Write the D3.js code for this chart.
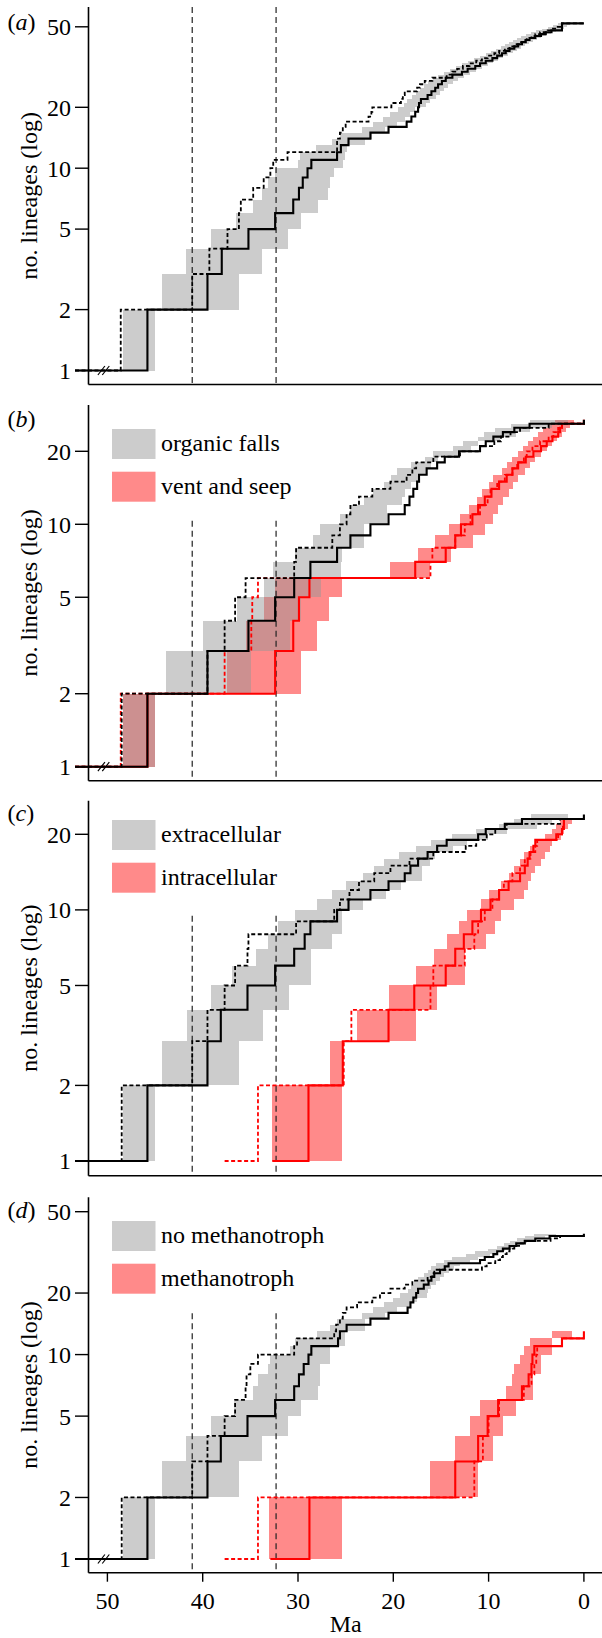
<!DOCTYPE html>
<meta charset="utf-8">
<head>
<style>
body { margin: 0; background: #fff; }
svg { display: block; }
svg text { font-family: "Liberation Serif", "Tinos", "Times New Roman", Times, "DejaVu Serif", serif; font-size: 24px; fill: #000; }
</style>
</head>
<body>
<div id="chart"></div>
<script src="https://d3js.org/d3.v7.min.js"></script>
<script>

// ages in Ma; each list gives the time of every +1 lineage step
var rootAge = 53.4;
var xTicks = [50, 40, 30, 20, 10, 0];
var yTicksWide = [1, 2, 5, 10, 20, 50];
var yTicksNarrow = [1, 2, 5, 10, 20];
var refLines = [41.1, 32.3];
var breakAge = 50.4;

// (a) all lineages
var aSolid = [45.8, 39.5, 38.0, 35.2, 32.4, 30.5, 29.9, 29.5, 29.0, 28.6, 25.9, 25.5, 24.7, 22.4, 20.5, 18.6, 18.1, 17.7, 17.4, 17.3, 17.1, 16.4, 16.0, 15.6, 15.3, 14.9, 14.5, 13.8, 12.8, 12.2, 11.4, 10.9, 10.3, 9.6, 9.1, 8.6, 8.2, 7.8, 7.3, 6.9, 6.5, 6.1, 5.7, 5.1, 4.5, 4.0, 3.4, 2.3, 2.3, 2.3, 2.3];
var aDashed = [48.6, 41.1, 39.3, 37.4, 36.2, 36.0, 34.7, 33.6, 32.9, 32.6, 31.1, 25.9, 25.9, 25.6, 25.3, 25.0, 22.6, 22.3, 22.2, 20.2, 19.2, 19.0, 18.8, 17.5, 17.2, 16.7, 15.9, 14.4, 13.8, 13.3, 12.7, 12.0, 11.3, 10.7, 10.1, 9.4, 8.9, 8.3, 7.8, 7.2, 6.8, 6.4, 6.0, 5.5, 5.1, 4.6, 3.8, 3.4, 2.9, 2.5, 2.3];
var aLo = [48.4, 44.3, 41.7, 39.1, 36.5, 34.7, 33.8, 33.1, 32.4, 30.0, 29.8, 28.1, 26.4, 25.6, 23.3, 22.1, 21.1, 20.3, 19.5, 18.9, 18.6, 18.0, 17.6, 17.2, 16.8, 16.4, 15.8, 15.3, 14.7, 14.0, 13.4, 12.8, 12.2, 11.5, 10.9, 10.3, 9.8, 9.2, 8.7, 8.3, 7.9, 7.4, 7.0, 6.6, 6.1, 5.5, 5.0, 4.4, 3.8, 3.2, 2.7];
var aHi = [45.0, 36.2, 33.8, 31.1, 29.7, 27.9, 26.9, 26.6, 26.2, 25.3, 25.1, 24.9, 23.0, 22.2, 20.9, 19.6, 18.8, 18.3, 17.7, 16.6, 16.1, 15.5, 15.1, 14.7, 14.3, 13.7, 13.2, 12.6, 11.9, 11.3, 10.7, 10.1, 9.5, 9.0, 8.5, 8.0, 7.4, 7.0, 6.6, 6.2, 5.8, 5.3, 4.9, 4.5, 4.0, 3.5, 2.9, 2.5, 2.1, 1.8, 1.5];

// (b) organic falls / vent and seep
var bGreySolid = [45.8, 39.5, 35.2, 32.4, 30.4, 28.7, 25.9, 24.5, 22.4, 20.5, 18.8, 18.3, 17.9, 17.5, 17.3, 16.5, 15.4, 14.6, 13.1, 10.9, 10.3, 9.5, 8.5, 7.3, 5.7, 0.0];
var bGreyDashed = [48.5, 39.5, 37.7, 36.6, 35.5, 30.4, 30.2, 26.4, 25.6, 24.9, 24.5, 23.6, 22.2, 20.3, 18.6, 18.0, 17.6, 15.8, 13.0, 10.9, 9.4, 8.7, 7.7, 6.7, 3.7, 0.0];
var bGreyLo = [48.4, 43.9, 40.0, 36.4, 33.6, 32.6, 30.3, 28.4, 27.7, 25.6, 24.5, 23.1, 22.1, 21.0, 20.2, 19.6, 18.1, 16.7, 15.8, 13.7, 12.7, 11.1, 10.5, 9.3, 7.7, 5.7];
var bGreyHi = [45.0, 34.9, 30.8, 29.7, 27.6, 25.5, 25.4, 23.1, 23.1, 20.7, 20.7, 19.1, 18.8, 18.1, 17.4, 16.5, 16.0, 15.3, 13.0, 11.8, 11.1, 8.8, 7.1, 5.7, 3.3, 1.7];
var bRedSolid = [45.8, 32.4, 30.5, 29.9, 28.8, 17.7, 14.5, 13.5, 12.9, 11.7, 11.1, 10.4, 9.7, 8.9, 8.1, 7.5, 6.9, 6.1, 5.3, 4.5, 3.9, 3.3, 2.7, 2.5, 2.3, 0.0];
var bRedDashed = [48.6, 37.7, 34.9, 34.8, 34.2, 16.1, 15.9, 13.5, 12.5, 11.9, 10.9, 10.1, 9.8, 9.1, 8.3, 7.5, 7.0, 6.3, 6.0, 5.4, 4.6, 3.7, 3.2, 2.7, 2.3, 0.0];
var bRedLo = [48.4, 37.5, 35.5, 33.6, 32.4, 20.3, 17.4, 15.6, 14.2, 13.0, 12.1, 11.2, 10.7, 10.0, 9.5, 8.6, 8.1, 7.5, 6.9, 6.4, 5.9, 5.3, 4.8, 4.3, 3.8, 3.0];
var bRedHi = [45.0, 29.7, 28.0, 26.7, 25.4, 16.1, 13.9, 11.6, 10.4, 9.5, 9.0, 8.5, 7.9, 7.4, 6.9, 6.2, 5.7, 5.1, 4.5, 3.9, 3.3, 2.8, 2.3, 1.9, 1.5, 1.0];

// (c) extracellular / intracellular
var cGreySolid = [45.8, 39.5, 38.1, 35.3, 32.4, 30.4, 29.3, 28.7, 25.9, 24.7, 22.4, 20.5, 18.8, 18.2, 17.4, 16.4, 15.4, 14.4, 11.1, 10.3, 8.3, 6.5, 0.0];
var cGreyDashed = [48.5, 41.1, 39.5, 37.7, 36.6, 35.3, 35.2, 30.2, 26.2, 25.6, 24.6, 23.6, 22.0, 20.3, 18.3, 15.8, 12.4, 11.3, 10.2, 9.3, 8.1, 2.5];
var cGreyLo = [48.4, 44.3, 41.6, 39.1, 36.9, 34.4, 33.1, 32.1, 30.3, 28.0, 26.4, 25.0, 23.2, 22.0, 21.0, 19.4, 17.6, 16.0, 13.8, 11.3, 8.9, 7.3, 5.6];
var cGreyHi = [45.0, 36.2, 33.7, 30.9, 28.6, 28.6, 26.4, 25.4, 25.4, 23.2, 20.8, 19.2, 17.0, 17.0, 16.1, 15.6, 13.7, 12.3, 10.1, 8.1, 4.9, 3.3, 1.7];
var cRedSolidStart = 32.7;
var cRedSolid = [28.9, 25.3, 20.5, 17.8, 14.5, 13.5, 12.6, 11.7, 10.8, 9.8, 8.9, 7.9, 6.7, 6.2, 5.9, 5.7, 5.3, 5.1, 2.9, 2.3, 2.1, 2.1];
var cRedDashedStart = 37.7;
var cRedDashed = [34.2, 25.2, 24.4, 16.1, 15.8, 12.5, 11.5, 11.1, 10.4, 9.6, 8.9, 8.4, 7.5, 6.7, 6.2, 5.6, 5.1, 4.9, 2.7, 2.3, 2.2, 2.1];
var cRedLo = [32.7, 26.6, 23.8, 20.4, 17.6, 15.7, 14.4, 13.1, 12.3, 10.8, 10.0, 8.7, 7.9, 7.3, 6.7, 6.3, 5.7, 5.1, 4.1, 3.3, 2.9, 2.5];
var cRedHi = [25.4, 25.3, 17.6, 15.4, 12.5, 12.5, 10.3, 9.3, 8.7, 7.3, 6.3, 5.9, 5.5, 5.1, 4.5, 4.1, 3.6, 3.3, 2.4, 2.1, 1.7, 1.2];

// (d) no methanotroph / methanotroph
var dGreySolid = [45.8, 39.5, 38.1, 35.3, 32.4, 30.4, 29.9, 29.4, 28.9, 28.6, 25.8, 25.6, 24.9, 22.4, 20.5, 18.5, 18.2, 17.9, 17.6, 17.4, 16.8, 16.3, 16.0, 15.7, 15.1, 14.6, 14.2, 10.9, 10.4, 9.5, 9.1, 8.5, 7.8, 7.1, 6.2, 5.1, 3.6, 0.0];
var dGreyDashed = [48.5, 41.1, 39.5, 37.7, 36.6, 35.5, 35.4, 35.0, 34.2, 30.4, 30.1, 26.2, 26.0, 25.6, 25.3, 24.9, 23.8, 22.2, 21.4, 20.3, 18.8, 18.0, 16.4, 15.9, 15.7, 10.7, 10.2, 9.3, 8.8, 8.5, 8.1, 7.8, 7.3, 6.8, 6.2, 3.5, 2.5];
var dGreyLo = [48.4, 44.3, 41.7, 39.1, 36.7, 34.7, 34.2, 33.1, 32.9, 30.8, 30.3, 28.0, 26.6, 25.9, 23.3, 22.1, 21.0, 20.0, 19.3, 18.5, 18.1, 17.8, 17.4, 16.8, 16.4, 16.0, 15.5, 14.7, 13.8, 12.4, 11.4, 10.1, 9.1, 8.4, 7.8, 7.0, 6.2, 5.2];
var dGreyHi = [45.0, 36.2, 33.8, 31.1, 29.7, 27.9, 27.7, 27.7, 26.6, 26.6, 25.1, 25.1, 23.0, 23.0, 20.9, 19.6, 18.1, 17.5, 16.5, 16.4, 16.0, 15.5, 15.1, 14.7, 14.2, 13.6, 13.0, 12.0, 11.1, 9.9, 9.2, 8.3, 7.5, 6.7, 6.0, 5.1, 4.1, 2.9];
var dRedSolidStart = 32.9;
var dRedSolid = [28.8, 13.5, 11.1, 10.1, 9.0, 6.5, 5.8, 5.5, 5.4, 5.2, 2.3, 0.0];
var dRedDashedStart = 37.7;
var dRedDashed = [34.2, 11.5, 10.6, 10.0, 8.9, 6.3, 5.5, 5.2, 5.0, 4.9, 2.3];
var dRedLo = [33.0, 16.1, 13.5, 12.0, 10.9, 8.2, 7.5, 7.3, 6.7, 6.3, 5.7, 3.3];
var dRedHi = [25.4, 11.1, 9.5, 8.5, 7.1, 5.3, 5.3, 4.5, 4.5, 3.3, 3.3, 1.2];

var panels = [
  { tag: "a", top: 7, bottom: 384.5, yMax: 50, yLow: 370.5, yHigh: 26.8, ticks: yTicksWide, refTop: 7, labelY: 30, brk: true,
    grey: { solid: aSolid, dashed: aDashed, lo: aLo, hi: aHi }, red: null, legend: null },
  { tag: "b", top: 405, bottom: 780.7, yMax: 20, yLow: 766.7, yHigh: 451.3, ticks: yTicksNarrow, refTop: 520.7, labelY: 426.5, brk: true,
    grey: { solid: bGreySolid, dashed: bGreyDashed, lo: bGreyLo, hi: bGreyHi },
    red: { solid: bRedSolid, dashed: bRedDashed, lo: bRedLo, hi: bRedHi },
    legend: ["organic falls", "vent and seep"], legendY: 429 },
  { tag: "c", top: 800.7, bottom: 1175.7, yMax: 20, yLow: 1161, yHigh: 834.3, ticks: yTicksNarrow, refTop: 915.7, labelY: 820.5, brk: false,
    grey: { solid: cGreySolid, dashed: cGreyDashed, lo: cGreyLo, hi: cGreyHi },
    red: { solid: cRedSolid, solidStart: cRedSolidStart, dashed: cRedDashed, dashedStart: cRedDashedStart, lo: cRedLo, hi: cRedHi },
    legend: ["extracellular", "intracellular"], legendY: 820 },
  { tag: "d", top: 1197.3, bottom: 1572.7, yMax: 50, yLow: 1559, yHigh: 1211.7, ticks: yTicksWide, refTop: 1313.3, labelY: 1218.3, brk: true,
    grey: { solid: dGreySolid, dashed: dGreyDashed, lo: dGreyLo, hi: dGreyHi },
    red: { solid: dRedSolid, solidStart: dRedSolidStart, dashed: dRedDashed, dashedStart: dRedDashedStart, lo: dRedLo, hi: dRedHi },
    legend: ["no methanotroph", "methanotroph"], legendY: 1221 }
];

var serif = "'Liberation Serif', Tinos, 'Times New Roman', Times, 'DejaVu Serif', serif";
var axisX = 88.5;
var svg = d3.select("#chart").append("svg")
    .attr("width", 602)
    .attr("height", 1638)
    .attr("font-family", serif)
    .attr("font-size", 24);

var x = d3.scaleLinear().domain([50, 0]).range([107.4, 583.9]);

var greyFill = "rgb(150,150,150)", greyOpacity = 0.49;
var redFill = "#ff8a8a";

function stepPoints(start, times) {
  var pts = [[start, 1]];
  times.forEach(function(t, i) { pts.push([t, i + 2]); });
  pts.push([0, times.length + 1]);
  return pts;
}

function addText(sel) {
  return sel.append("text").attr("font-family", serif).style("font-family", serif).style("font-size", "24px");
}

panels.forEach(function(p) {
  var y = d3.scaleLog().domain([1, p.yMax]).range([p.yLow, p.yHigh]);
  var g = svg.append("g");

  var drawBand = function(s, fill, op) {
    g.append("g")
      .selectAll("rect")
      .data(s.lo)
      .join("rect")
        .attr("x", function(d) { return x(d); })
        .attr("width", function(d, i) { return x(s.hi[i]) - x(d); })
        .attr("y", function(d, i) { return y(i + 2); })
        .attr("height", function(d, i) { return y(i + 1) - y(i + 2); })
        .attr("shape-rendering", "crispEdges")
        .style("fill", fill)
        .style("opacity", op);
  };

  // red band underneath, grey over it (gives the brownish overlap)
  if (p.red) drawBand(p.red, redFill, 1);
  drawBand(p.grey, greyFill, greyOpacity);

  // reference ages
  g.selectAll(".ref")
    .data(refLines)
    .join("line")
      .attr("class", "ref")
      .attr("x1", function(d) { return x(d); })
      .attr("x2", function(d) { return x(d); })
      .attr("y1", p.refTop)
      .attr("y2", p.bottom)
      .style("stroke", "#222")
      .style("stroke-width", 1.2)
      .style("stroke-dasharray", "6,4");

  var line = d3.line()
    .x(function(d) { return x(d[0]); })
    .y(function(d) { return y(d[1]); })
    .curve(d3.curveStepAfter);

  var drawLtt = function(start, times, color, dashed) {
    g.append("path")
      .datum(stepPoints(start, times))
      .attr("d", line)
      .style("fill", "none")
      .style("stroke", color)
      .style("stroke-width", dashed ? 1.8 : 2.1)
      .style("stroke-dasharray", dashed ? "4,2.5" : null);
  };

  if (p.red) {
    drawLtt(p.red.dashedStart || rootAge, p.red.dashed, "#ff0000", true);
    drawLtt(p.red.solidStart || rootAge, p.red.solid, "#ff0000", false);
  }
  drawLtt(rootAge, p.grey.dashed, "#000", true);
  drawLtt(rootAge, p.grey.solid, "#000", false);

  // axis break marks on the root branch
  if (p.brk) {
    [-2.2, 2.2].forEach(function(off) {
      g.append("line")
        .attr("x1", x(breakAge) + off - 3.5).attr("y1", y(1) + 4.5)
        .attr("x2", x(breakAge) + off + 3.5).attr("y2", y(1) - 4.5)
        .style("stroke", "#000").style("stroke-width", 1.2);
    });
  }

  // axes
  g.append("line")
    .attr("x1", axisX).attr("x2", axisX)
    .attr("y1", p.top).attr("y2", p.bottom)
    .style("stroke", "#000").style("stroke-width", 1.6);
  g.append("line")
    .attr("x1", axisX).attr("x2", 602)
    .attr("y1", p.bottom).attr("y2", p.bottom)
    .style("stroke", "#000").style("stroke-width", 1.6);

  g.selectAll(".ytick")
    .data(p.ticks)
    .join("line")
      .attr("class", "ytick")
      .attr("x1", 75).attr("x2", axisX)
      .attr("y1", function(d) { return y(d); })
      .attr("y2", function(d) { return y(d); })
      .style("stroke", "#000").style("stroke-width", 1.4);
  p.ticks.forEach(function(d) {
    addText(g)
      .attr("x", 71)
      .attr("y", y(d))
      .attr("dy", "0.35em")
      .style("text-anchor", "end")
      .text(d);
  });

  addText(g)
    .attr("transform", "translate(37," + ((p.top + p.bottom) / 2) + ") rotate(-90)")
    .style("text-anchor", "middle")
    .text("no. lineages (log)");

  var lab = addText(g).attr("x", 7.5).attr("y", p.labelY);
  lab.append("tspan").text("(");
  lab.append("tspan").style("font-style", "italic").text(p.tag);
  lab.append("tspan").text(")");

  if (p.legend) {
    p.legend.forEach(function(name, i) {
      var ly = p.legendY + i * 42.7;
      g.append("rect")
        .attr("x", 112).attr("y", ly)
        .attr("width", 43.5).attr("height", 30)
        .style("fill", i === 0 ? "#cccccc" : redFill);
      addText(g)
        .attr("x", 161).attr("y", ly + 22)
        .text(name);
    });
  }

  if (p.tag === "d") {
    g.selectAll(".xtick")
      .data(xTicks)
      .join("line")
        .attr("class", "xtick")
        .attr("x1", function(d) { return x(d); })
        .attr("x2", function(d) { return x(d); })
        .attr("y1", p.bottom).attr("y2", p.bottom + 9)
        .style("stroke", "#000").style("stroke-width", 1.4);
    xTicks.forEach(function(d) {
      addText(g)
        .attr("x", x(d))
        .attr("y", 1608.5)
        .style("text-anchor", "middle")
        .text(d);
    });
    addText(g)
      .attr("x", 345.7).attr("y", 1632)
      .style("text-anchor", "middle")
      .text("Ma");
  }
});

</script>
</body>
